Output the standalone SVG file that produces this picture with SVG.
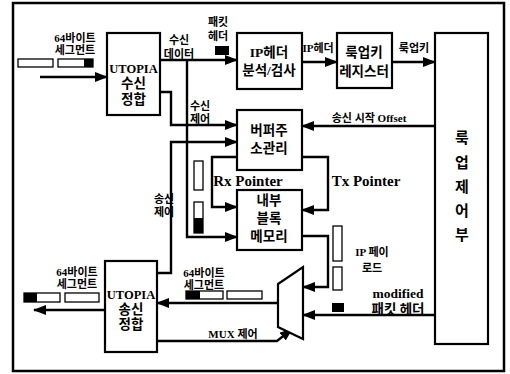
<svg xmlns="http://www.w3.org/2000/svg" width="510" height="374" viewBox="0 0 510 374">
<defs>
<marker id="ah" markerUnits="userSpaceOnUse" markerWidth="14" markerHeight="12" refX="12" refY="5" orient="auto">
<path d="M0,0 L13,5 L0,10 z" fill="#000"/>
</marker>
<style>
.box{fill:#fff;stroke:#000;stroke-width:2.2}
.ln{fill:none;stroke:#000;stroke-width:2.4}
.ar{marker-end:url(#ah)}
.seg{fill:#fff;stroke:#000;stroke-width:1.3}
.blk{fill:#000}
.t{font-family:"Liberation Serif","Noto Sans CJK KR",serif;font-weight:bold;fill:#000;text-anchor:middle}
.s{font-size:11px}
.m{font-size:13.5px}
.u{font-size:12.5px}
.l{font-size:15px}
</style>
</defs>
<rect x="0" y="0" width="510" height="374" fill="#fff"/>
<rect x="13" y="3" width="491" height="368" fill="none" stroke="#000" stroke-width="2.5"/>

<g id="connectors">
<path class="ln ar" d="M40,77 H107"/>
<path class="ln ar" d="M160,60 H237"/>
<path class="ln ar" d="M187,60 V237 H237"/>
<path class="ln ar" d="M160,92 H171 V125 H237"/>
<path class="ln ar" d="M157,273 H171 V142 H237"/>
<path class="ln ar" d="M302,62 H337"/>
<path class="ln ar" d="M392,62 H435"/>
<path class="ln ar" d="M435,126 H302"/>
<path class="ln ar" d="M237,157 H212 V207 H237"/>
<path class="ln ar" d="M302,157 H328 V210 H302"/>
<path class="ln ar" d="M302,236 H328 V287 H303"/>
<path class="ln ar" d="M435,315 H303"/>
<path class="ln ar" d="M278,303 H157"/>
<path class="ln ar" d="M157,341 H277 L292,329"/>
<path class="ln ar" d="M105,310 H34"/>
</g>

<g id="utopia-rx">
<rect class="box" x="107" y="33" width="53" height="82"/>
<text class="t u" x="133.5" y="73">UTOPIA</text>
<text class="t m" x="133.5" y="88">수신</text>
<text class="t m" x="133.5" y="104">정합</text>
</g>

<g id="ip-header">
<rect class="box" x="237" y="33" width="65" height="56"/>
<text class="t m" x="269" y="57">IP헤더</text>
<text class="t m" x="269" y="75">분석/검사</text>
</g>

<g id="lookup-reg">
<rect class="box" x="337" y="33" width="55" height="55"/>
<text class="t m" x="364" y="57">룩업키</text>
<text class="t m" x="364" y="76">레지스터</text>
</g>

<g id="lookup-ctrl">
<rect class="box" x="435" y="33" width="53" height="311"/>
<text class="t l" x="462" y="143">룩</text>
<text class="t l" x="462" y="168">업</text>
<text class="t l" x="462" y="192">제</text>
<text class="t l" x="462" y="216">어</text>
<text class="t l" x="462" y="240">부</text>
</g>

<g id="buffer-mgr">
<rect class="box" x="237" y="110" width="65" height="60"/>
<text class="t m" x="269" y="135">버퍼주</text>
<text class="t m" x="269" y="153">소관리</text>
</g>

<g id="memory">
<rect class="box" x="237" y="190" width="65" height="60"/>
<text class="t m" x="269" y="205">내부</text>
<text class="t m" x="269" y="223">블록</text>
<text class="t m" x="269" y="241">메모리</text>
</g>

<g id="mux">
<polygon class="box" points="278,284 303,267 303,339 278,327"/>
</g>

<g id="utopia-tx">
<rect class="box" x="105" y="261" width="52" height="91"/>
<text class="t u" x="131" y="299">UTOPIA</text>
<text class="t m" x="131" y="314">송신</text>
<text class="t m" x="131" y="329">정합</text>
</g>

<g id="labels">
<text class="t s" x="75" y="42">64바이트</text>
<text class="t s" x="75" y="54">세그먼트</text>
<rect class="seg" x="18" y="59" width="35" height="8"/>
<rect class="seg" x="58" y="59" width="35" height="8"/>
<rect class="blk" x="84" y="59" width="9" height="8"/>

<text class="t s" x="179" y="44">수신</text>
<text class="t s" x="179" y="58">데이터</text>
<text class="t s" x="218" y="26">패킷</text>
<text class="t s" x="218" y="40">헤더</text>
<rect class="blk" x="215" y="46" width="14" height="9"/>

<text class="t s" x="318" y="52">IP헤더</text>
<text class="t s" x="414" y="52">룩업키</text>
<text class="t s" x="369" y="122">송신 시작 Offset</text>

<text class="t s" x="200" y="110">수신</text>
<text class="t s" x="200" y="123">제어</text>
<text class="t s" x="164" y="203">송신</text>
<text class="t s" x="164" y="216">제어</text>

<rect class="seg" x="194" y="161" width="9" height="29"/>
<rect class="seg" x="194" y="202" width="9" height="31"/>
<rect class="blk" x="194" y="218" width="9" height="15"/>

<text class="t l" x="248" y="186">Rx Pointer</text>
<text class="t l" x="366" y="186">Tx Pointer</text>

<rect class="seg" x="333" y="226" width="9" height="35"/>
<rect class="seg" x="333" y="267" width="9" height="23"/>
<rect class="blk" x="332" y="303" width="12" height="9"/>
<text class="t s" x="372" y="256">IP 페이</text>
<text class="t s" x="372" y="272">로드</text>
<text class="t m" x="398" y="298">modified</text>
<text class="t m" x="398" y="314">패킷 헤더</text>

<text class="t s" x="204" y="277">64바이트</text>
<text class="t s" x="204" y="289">세그먼트</text>
<rect class="seg" x="186" y="291" width="37" height="8"/>
<rect class="blk" x="186" y="291" width="14" height="8"/>
<rect class="seg" x="227" y="291" width="35" height="8"/>
<text class="t s" x="233" y="338">MUX 제어</text>

<text class="t s" x="77" y="276">64바이트</text>
<text class="t s" x="77" y="288">세그먼트</text>
<rect class="seg" x="24" y="293" width="36" height="9"/>
<rect class="blk" x="24" y="293" width="13" height="9"/>
<rect class="seg" x="65" y="293" width="34" height="9"/>
</g>
</svg>
